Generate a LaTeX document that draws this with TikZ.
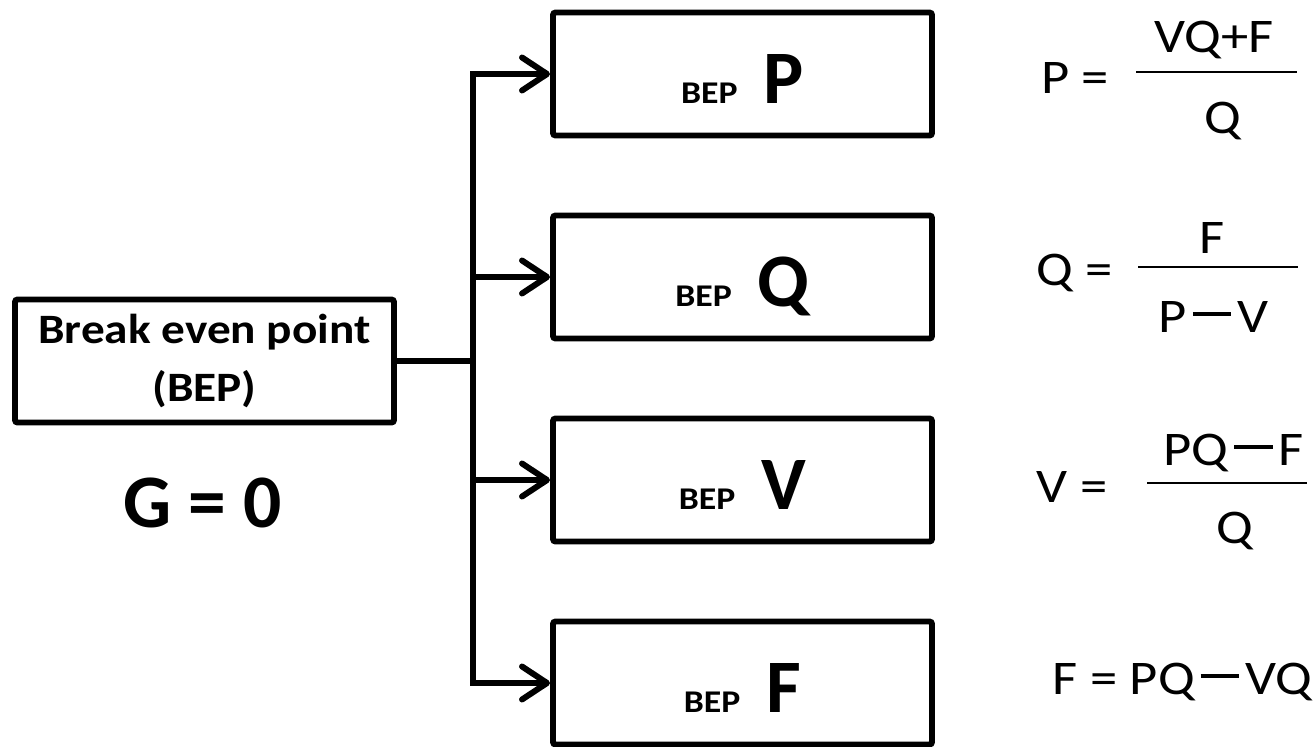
\documentclass[tikz,border=0pt]{standalone}
\usepackage{fontspec}
\setmainfont{Carlito}
\newfontfamily\widefont{Carlito}[FakeStretch=1.13]
\usetikzlibrary{arrows.meta}

% small "BEP" followed by the big letter of the case
\newcommand{\bepof}[1]{{\widefont\fontsize{18pt}{20pt}\selectfont BEP}\fontsize{43pt}{46pt}\selectfont\ \hspace{0.12em}#1}
% long minus sign of the formulas
\newcommand{\mdash}{\hspace{0.12em}\rule[0.33em]{0.8em}{0.08em}\hspace{0.12em}}

\begin{document}
\begin{tikzpicture}[font=\bfseries]
    \useasboundingbox (0,0) rectangle (26.32,-14.92);
    \def\sep{4.06cm}
    \tikzset{bepbox/.style={rectangle, draw=black, line width=3.4pt, rounded corners=1.5pt,
            minimum width=7.58cm, minimum height=2.46cm, inner sep=0pt, text centered},
        case/.style={bepbox, text height=1.16cm, text depth=0pt},
        feed/.style={line width=3.4pt, arrows=-{Straight Barb[length=0.5cm, width=0.66cm, round]}},
        eq/.style={font=\widefont\fontsize{27.5pt}{30pt}\selectfont, anchor=base, inner sep=0pt},
        bar/.style={line width=1.1pt}}

    \node[bepbox, align=center, font=\widefont\fontsize{23.8pt}{33pt}\selectfont\bfseries] (bep) at (4.09,-7.22) {Break even point \\ (BEP)};
    \node[anchor=base, font=\fontsize{43pt}{46pt}\selectfont\bfseries] (g) at (4.05,-10.54) {G = 0};

    \node[case] (P) at (14.85,-1.48) {\bepof{P}};
    \node[case] (Q) at (14.85,-1.48cm-1*\sep) {\bepof{Q}};
    \node[case] (V) at (14.85,-1.48cm-2*\sep) {\bepof{V}};
    \node[case] (F) at (14.85,-1.48cm-3*\sep) {\bepof{F}};

    \coordinate (J) at (9.46,-7.22);
    \draw[line width=3.4pt] (bep) -- (J);
    \draw[feed] (J) |- (P);
    \draw[feed] (J) |- (Q);
    \draw[feed] (J) |- (V);
    \draw[feed] (J) |- (F);

    % formulas
    \node[eq] (Pl) at (21.50,-1.86) {P =};
    \node[eq] (Pn) at (24.28,-1.04) {VQ+F};
    \node[eq] (Pd) at (24.46,-2.66) {Q};
    \draw[bar] (22.72,-1.44) -- (25.94,-1.44);

    \node[eq] (Ql) at (21.50,-5.70) {Q =};
    \node[eq] (Qn) at (24.24,-5.06) {F};
    \node[eq] (Qd) at (24.27,-6.64) {P\mdash V};
    \draw[bar] (22.76,-5.34) -- (25.96,-5.34);

    \node[eq] (Vl) at (21.44,-10.04) {V =};
    \node[eq] (Vn) at (24.67,-9.30) {PQ\mdash F};
    \node[eq] (Vd) at (24.69,-10.86) {Q};
    \draw[bar] (22.94,-9.66) -- (26.14,-9.66);

    \node[eq] (Fl) at (23.65,-13.88) {F = PQ\mdash VQ};
\end{tikzpicture}
\end{document}
